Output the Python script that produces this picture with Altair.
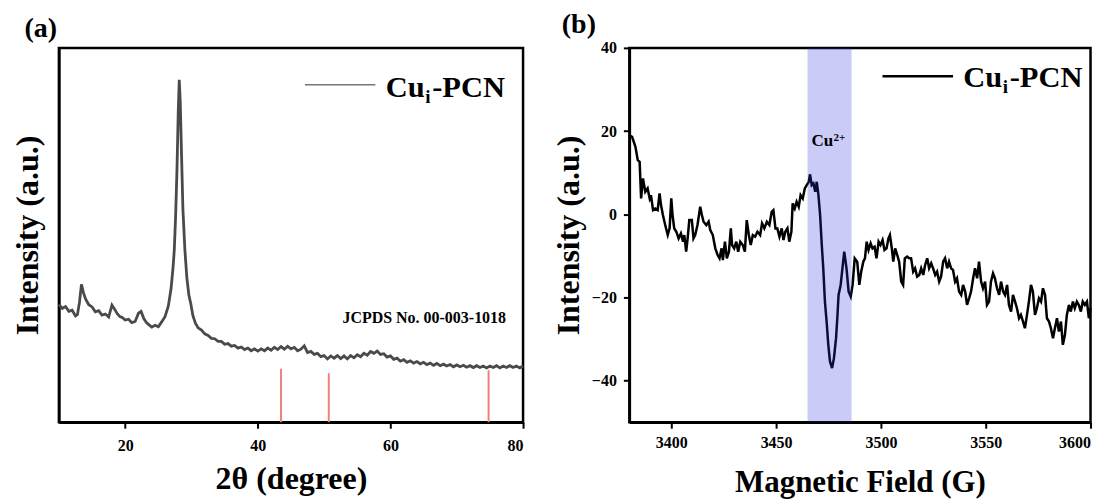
import altair as alt
import pandas as pd

FONT = "Liberation Serif"

# ---------------- (a) XRD data ----------------
xrd_2theta = [10.0, 10.5, 11.0, 11.5, 12.0, 12.5, 12.8, 13.1, 13.4, 13.7, 14.0, 14.5, 15.0, 15.5,
              16.0, 16.5, 17.0, 17.5, 18.0, 18.4, 18.8, 19.2, 19.6, 20.0, 20.5, 21.0, 21.5, 22.0,
              22.4, 22.8, 23.2, 23.6, 24.0, 24.5, 25.0, 25.5, 26.0, 26.5, 26.9, 27.2, 27.4, 27.6,
              27.8, 28.0, 28.15, 28.3, 28.5, 28.7, 29.0, 29.3, 29.6, 29.9, 30.2, 30.6, 31.0, 31.5,
              32.0, 32.5, 33.0, 33.5, 34.0, 34.5, 35.0, 35.5, 36.0, 36.5, 37.0, 37.5, 38.0, 38.5,
              39.0, 39.5, 40.0, 40.5, 41.0, 41.5, 42.0, 42.5, 43.0, 43.5, 44.0, 44.5, 45.0, 45.5,
              46.0, 46.5, 47.0, 47.5, 48.0, 48.5, 49.0, 49.5, 50.0, 50.5, 51.0, 51.5, 52.0, 52.5,
              53.0, 53.5, 54.0, 54.5, 55.0, 55.5, 56.0, 56.5, 57.0, 57.5, 58.0, 58.5, 59.0, 59.5,
              60.0, 60.5, 61.0, 61.5, 62.0, 62.5, 63.0, 63.5, 64.0, 64.5, 65.0, 65.5, 66.0, 66.5,
              67.0, 67.5, 68.0, 68.5, 69.0, 69.5, 70.0, 70.5, 71.0, 71.5, 72.0, 72.5, 73.0, 73.5,
              74.0, 74.5, 75.0, 75.5, 76.0, 76.5, 77.0, 77.5, 78.0, 78.5, 79.0, 79.5, 80.0]
xrd_intensity = [32.5, 31.4, 31.9, 30.6, 30.9, 29.4, 29.8, 33.0, 37.8, 35.6, 34.0, 32.4, 31.8, 30.5,
                 30.8, 29.6, 29.9, 29.1, 32.3, 31.2, 30.0, 29.2, 28.9, 28.3, 28.5, 27.6, 27.9, 30.1,
                 30.6, 28.7, 27.6, 27.0, 26.4, 26.9, 26.5, 27.8, 29.2, 32.0, 36.5, 42.0, 47.0, 56.0,
                 68.0, 84.0, 92.5, 86.5, 72.0, 58.0, 47.0, 39.5, 35.0, 32.6, 29.5, 27.4, 26.2, 25.6,
                 24.6, 24.2, 23.4, 23.3, 22.6, 22.6, 21.8, 22.0, 21.3, 21.5, 20.8, 21.1, 20.4, 20.8,
                 20.1, 20.6, 20.0, 20.6, 20.1, 20.8, 20.2, 21.0, 20.4, 21.2, 20.5, 21.3, 20.6, 21.0,
                 20.1, 20.5, 21.4, 19.6, 19.9, 19.1, 19.4, 18.5, 18.8, 17.9, 18.7, 18.1, 18.8, 18.0,
                 18.7, 17.9, 18.8, 18.2, 19.0, 18.5, 19.4, 18.9, 19.9, 19.4, 20.0, 19.1, 19.3, 18.4,
                 18.7, 17.8, 18.1, 17.3, 17.7, 17.0, 17.4, 16.8, 17.2, 16.6, 17.0, 16.4, 16.8, 16.2,
                 16.7, 16.1, 16.5, 16.0, 16.4, 15.8, 16.3, 15.8, 16.2, 15.7, 16.1, 15.6, 16.1, 15.6,
                 16.0, 15.5, 16.0, 15.6, 16.1, 15.5, 16.0, 15.6, 16.1, 15.6, 16.0, 15.5, 16.0]

ref_2theta = [43.5, 50.7, 74.8]
ref_height = [15.3, 14.1, 14.9]

# ---------------- (b) EPR data ----------------
epr_field = [3380.0, 3381.3, 3382.9, 3384.0, 3384.9, 3385.6, 3386.5, 3387.6, 3388.7, 3389.7, 3390.3,
             3391.3, 3392.4, 3393.5, 3394.4, 3395.1, 3396.0, 3397.1, 3398.3, 3399.2, 3400.0, 3400.6,
             3401.4, 3402.4, 3403.5, 3404.6, 3405.6, 3406.2, 3407.1, 3407.8, 3408.6, 3409.8, 3410.6,
             3411.4, 3412.5, 3413.8, 3414.6, 3415.4, 3416.7, 3417.8, 3418.6, 3419.8, 3421.0, 3422.1,
             3423.0, 3424.0, 3424.6, 3425.6, 3426.5, 3427.5, 3428.4, 3429.0, 3430.0, 3431.0, 3431.9,
             3432.9, 3434.1, 3435.1, 3436.0, 3437.0, 3437.9, 3438.9, 3440.0, 3441.1, 3442.4, 3443.3,
             3444.4, 3445.6, 3446.8, 3447.9, 3448.7, 3449.7, 3450.6, 3451.6, 3452.7, 3453.5, 3454.4,
             3455.4, 3456.3, 3457.3, 3457.9, 3458.9, 3459.8, 3460.8, 3461.7, 3462.7, 3463.7, 3464.6,
             3465.6, 3466.2, 3467.0, 3467.8, 3468.7, 3469.4, 3470.2, 3471.0, 3471.7, 3472.5, 3473.3,
             3474.1, 3474.9, 3475.7, 3476.7, 3477.6, 3478.6, 3479.2, 3479.8, 3480.8, 3482.5, 3483.6,
             3484.6, 3485.6, 3486.5, 3487.5, 3488.7, 3489.7, 3490.6, 3491.6, 3492.4, 3493.2, 3494.1,
             3495.1, 3496.0, 3497.0, 3497.9, 3498.9, 3499.8, 3500.8, 3501.7, 3502.7, 3503.6, 3504.3,
             3505.2, 3505.9, 3506.8, 3507.8, 3508.7, 3509.7, 3510.6, 3511.4, 3512.5, 3513.5, 3514.4,
             3515.4, 3516.3, 3517.3, 3518.3, 3519.2, 3520.2, 3521.1, 3522.1, 3523.0, 3524.0, 3524.9,
             3525.9, 3526.8, 3527.8, 3528.7, 3529.7, 3530.6, 3531.6, 3532.5, 3533.5, 3534.4, 3535.4,
             3536.3, 3537.3, 3538.3, 3539.2, 3540.2, 3541.1, 3542.1, 3543.0, 3544.0, 3544.9, 3545.9,
             3546.8, 3547.8, 3548.7, 3549.7, 3550.6, 3551.6, 3552.5, 3553.5, 3554.4, 3555.4, 3556.4,
             3557.3, 3558.3, 3559.2, 3560.2, 3561.1, 3562.1, 3563.0, 3564.0, 3564.9, 3565.9, 3566.8,
             3567.8, 3568.7, 3569.7, 3570.6, 3571.6, 3572.5, 3573.5, 3574.4, 3575.4, 3576.4, 3577.3,
             3578.3, 3579.2, 3580.2, 3581.1, 3582.1, 3583.0, 3584.0, 3584.9, 3585.9, 3586.8, 3587.8,
             3588.7, 3589.7, 3590.6, 3591.6, 3592.5, 3593.5, 3594.4, 3595.4, 3596.3, 3597.3, 3598.3,
             3599.2, 3600.0]
epr_intensity = [19.0, 18.6, 16.2, 13.0, 12.6, 3.8, 8.6, 5.4, 6.2, 3.8, 4.6,
                 1.0, 1.4, 1.0, 5.0, 2.2, -0.2, -2.6, -5.0, -3.4, 3.8, -0.2,
                 -3.4, -4.2, -5.8, -4.6, -6.6, -5.0, -9.0, -5.8, -1.4, -1.4, -5.8,
                 -5.0, -2.6, 1.8, -0.2, -1.8, -2.6, -1.8, -3.8, -5.0, -8.2, -9.8,
                 -10.6, -8.2, -11.0, -6.6, -10.6, -9.0, -3.4, -7.4, -8.2, -6.6, -9.0,
                 -6.6, -7.4, -9.0, -1.4, -5.0, -7.4, -5.0, -5.4, -4.2, -5.0, -2.2,
                 -3.4, -1.8, -2.6, 0.6, 1.0, -3.4, -3.4, -5.4, -3.4, -6.2, -4.2,
                 -3.4, -6.6, -4.2, 2.6, 1.4, 3.0, 1.8, 4.6, 3.8, 6.2, 7.0,
                 7.8, 9.6, 7.0, 7.4, 5.4, 7.8, 4.6, -0.2, -6.6, -13.0, -21.0,
                 -25.8, -31.4, -35.4, -37.0, -34.6, -29.8, -25.0, -19.4, -17.0, -9.0, -13.0,
                 -18.6, -19.8, -17.0, -10.6, -11.4, -17.0, -13.8, -11.4, -10.6, -6.6, -8.6,
                 -7.0, -8.2, -7.8, -10.6, -6.6, -7.4, -6.2, -8.6, -8.2, -5.8, -5.0,
                 -8.2, -11.4, -8.2, -9.8, -11.4, -16.2, -17.0, -10.6, -10.2, -10.6, -10.6,
                 -13.8, -13.0, -15.0, -14.6, -13.0, -14.6, -12.2, -10.6, -13.0, -11.8, -13.0,
                 -14.6, -13.8, -16.2, -15.0, -11.4, -10.6, -13.0, -11.4, -13.0, -13.4, -16.2,
                 -15.4, -18.6, -19.4, -17.0, -18.6, -21.8, -20.2, -18.6, -15.4, -13.0, -15.4,
                 -11.4, -16.2, -17.8, -16.2, -21.8, -21.0, -16.2, -14.2, -15.4, -17.8, -19.4,
                 -16.2, -18.6, -19.4, -17.0, -21.8, -23.4, -19.4, -21.0, -22.6, -25.0, -24.2,
                 -25.8, -27.4, -24.2, -21.0, -17.0, -18.6, -24.2, -22.6, -20.2, -21.0, -17.8,
                 -19.4, -25.0, -25.8, -27.4, -29.8, -27.4, -25.0, -28.2, -25.8, -31.4, -29.0,
                 -24.2, -21.8, -23.4, -21.0, -22.6, -21.0, -21.8, -23.4, -21.0, -21.8, -21.0,
                 -25.0, -22.6]

band_start = [3465]
band_end = [3486]

# ---------------- layout constants ----------------
W1, H1 = 465, 375
W2, H2 = 462, 375

xrd_df = pd.DataFrame({"t": xrd_2theta, "v": xrd_intensity})
ref_df = pd.DataFrame({"t": ref_2theta, "h": ref_height})
epr_df = pd.DataFrame({"f": epr_field, "v": epr_intensity})
band_df = pd.DataFrame({"a": band_start, "b": band_end})
one = alt.Data(values=[{"k": 0}])


def txt(text, x, y, size, align="left", weight="bold"):
    return alt.Chart(one).mark_text(
        text=text, font=FONT, fontSize=size, fontWeight=weight, color="black",
        align=align, baseline="alphabetic"
    ).encode(x=alt.value(x), y=alt.value(y))


def axis_common(**kw):
    base = dict(
        grid=False, labelFont=FONT, labelFontSize=16, labelFontWeight="bold", labelColor="black",
        titleFont=FONT, titleFontSize=32, titleFontWeight="bold", titleColor="black",
        domainColor="black", domainWidth=2.5, tickColor="black", tickWidth=2, tickSize=6,
        format="d",
    )
    base.update(kw)
    return alt.Axis(**base)


# ---------------- panel (a) ----------------
xa = alt.X("t:Q", scale=alt.Scale(domain=[10, 80], nice=False),
           axis=axis_common(values=[20, 40, 60, 80], title="2θ (degree)", labelPadding=9,
                            titlePadding=10))
ya = alt.Y("v:Q", scale=alt.Scale(domain=[1, 101], nice=False),
           axis=axis_common(labels=False, ticks=False, title="Intensity (a.u.)", titlePadding=14))

xrd_line = alt.Chart(xrd_df).mark_line(color="#4a4a4a", strokeWidth=2.8).encode(x=xa, y=ya)
ref_lines = alt.Chart(ref_df).mark_rule(color="#f08080", strokeWidth=2).encode(
    x="t:Q", y="h:Q", y2=alt.value(H1))
leg_a_line = alt.Chart(one).mark_rule(color="#777777", strokeWidth=1.5).encode(
    x=alt.value(246.5), x2=alt.value(317), y=alt.value(37))
cx = 327.5
panel_a = alt.layer(
    xrd_line, ref_lines, leg_a_line,
    txt("Cu", cx, 49, 30.5), txt("i", cx + 39.5, 55, 19), txt("-PCN", cx + 46.5, 49, 30.5),
    txt("JCPDS No. 00-003-1018", 448, 276, 16, align="right"),
    txt("(a)", -34.5, -11, 28),
).properties(width=W1, height=H1)

# ---------------- panel (b) ----------------
xb = alt.X("f:Q", scale=alt.Scale(domain=[3380, 3600], nice=False),
           axis=axis_common(values=[3400, 3450, 3500, 3550, 3600], title="Magnetic Field (G)",
                            titleFontSize=31, labelPadding=6, titlePadding=17))
yb = alt.Y("v:Q", scale=alt.Scale(domain=[-50, 40], nice=False),
           axis=axis_common(values=[-40, -20, 0, 20, 40], title="Intensity (a.u.)",
                            labelPadding=7, titlePadding=6))

epr_line = alt.Chart(epr_df).mark_line(color="black", strokeWidth=2.5).encode(x=xb, y=yb)
band = alt.Chart(band_df).mark_rect(color="#3030e0", opacity=0.25).encode(
    x="a:Q", x2="b:Q", y=alt.value(0), y2=alt.value(H2))
leg_b_line = alt.Chart(one).mark_rule(color="black", strokeWidth=2.5).encode(
    x=alt.value(253.6), x2=alt.value(324.3), y=alt.value(28.3))
cb = 334.5
panel_b = alt.layer(
    epr_line, band, leg_b_line,
    txt("Cu", cb, 39.3, 30.5), txt("i", cb + 39.5, 45.3, 19), txt("-PCN", cb + 46.5, 39.3, 30.5),
    txt("Cu", 182.5, 98, 17), txt("2+", 204.5, 93, 11),
    txt("(b)", -67.7, -15, 28),
).properties(width=W2, height=H2)

chart = alt.hconcat(panel_a, panel_b, spacing=20.5).configure_view(
    stroke="black", strokeWidth=2.5
).properties(background="white", padding={"left": 2, "top": 0.5, "right": 5, "bottom": 5})

chart.save("out.html", embed_options={"renderer": "svg", "actions": False})
